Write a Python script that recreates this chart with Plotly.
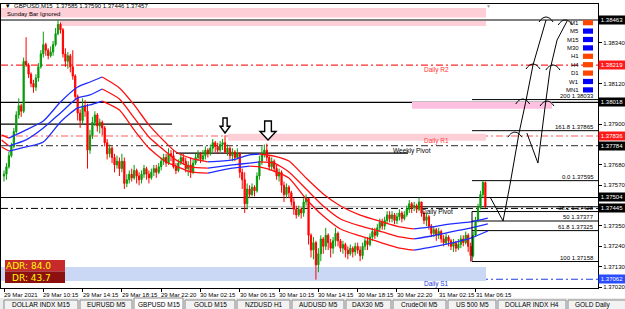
import plotly.graph_objects as go

# ======================= DATA =======================
symbol_title = "GBPUSD,M15  1.37585 1.37590 1.37446 1.37457"
first_open = 1.3762
closes = [
 1.3763, 1.3767, 1.3773, 1.3778, 1.3786, 1.3795, 1.3800, 1.3797, 1.3824, 1.3822,
 1.3817, 1.3812, 1.3810, 1.3815, 1.3821, 1.3828, 1.3833, 1.3830, 1.3827, 1.3829,
 1.3833, 1.3839, 1.3844, 1.3841, 1.3828, 1.3824, 1.3827, 1.3821, 1.3816, 1.3805,
 1.3796, 1.3792, 1.3800, 1.3797, 1.3776, 1.3784, 1.3791, 1.3795, 1.3789, 1.3791,
 1.3788, 1.3780, 1.3774, 1.3777, 1.3772, 1.3768, 1.3770, 1.3766, 1.3770, 1.3758,
 1.3760, 1.3763, 1.3761, 1.3765, 1.3762, 1.3760, 1.3763, 1.3766, 1.3763, 1.3761,
 1.3764, 1.3766, 1.3764, 1.3767, 1.3770, 1.3772, 1.3769, 1.3774, 1.3773, 1.3767,
 1.3765, 1.3769, 1.3772, 1.3770, 1.3766, 1.3768, 1.3764, 1.3769, 1.3772, 1.3774,
 1.3771, 1.3773, 1.3776, 1.3774, 1.3777, 1.3780, 1.3778, 1.3776, 1.3779, 1.3780,
 1.3775, 1.3777, 1.3773, 1.3775, 1.3772, 1.3774, 1.3764, 1.3760, 1.3747, 1.3755,
 1.3752, 1.3756, 1.3754, 1.3762, 1.3770, 1.3774, 1.3776, 1.3772, 1.3767, 1.3770,
 1.3766, 1.3762, 1.3764, 1.3757, 1.3752, 1.3756, 1.3753, 1.3748, 1.3744, 1.3741,
 1.3744, 1.3742, 1.3748, 1.3750, 1.3730, 1.3722, 1.3726, 1.3714, 1.3720, 1.3728,
 1.3724, 1.3730, 1.3726, 1.3723, 1.3727, 1.3731, 1.3727, 1.3723, 1.3725, 1.3722,
 1.3720, 1.3723, 1.3721, 1.3724, 1.3722, 1.3719, 1.3724, 1.3727, 1.3725, 1.3729,
 1.3732, 1.3730, 1.3734, 1.3737, 1.3735, 1.3738, 1.3741, 1.3739, 1.3741, 1.3738,
 1.3740, 1.3742, 1.3739, 1.3741, 1.3744, 1.3747, 1.3745, 1.3746, 1.3744, 1.3748,
 1.3742, 1.3738, 1.3740, 1.3735, 1.3731, 1.3733, 1.3730, 1.3732, 1.3728, 1.3726,
 1.3729, 1.3727, 1.3724, 1.3726, 1.3723, 1.3725, 1.3728, 1.3726, 1.3730, 1.3724,
 1.3719, 1.3730, 1.3738, 1.3745, 1.3752, 1.37585, 1.37457]
highs = [
 1.3765, 1.3769, 1.3775, 1.3780, 1.3788, 1.3797, 1.3804, 1.3801, 1.3826, 1.3837,
 1.3823, 1.3818, 1.3814, 1.3817, 1.3823, 1.3830, 1.3840, 1.3834, 1.3831, 1.3832,
 1.3835, 1.3842, 1.38463, 1.3845, 1.3842, 1.3831, 1.3829, 1.3828, 1.3830, 1.3817,
 1.3806, 1.3798, 1.3804, 1.3803, 1.3801, 1.3787, 1.3794, 1.3797, 1.3796, 1.3793,
 1.3792, 1.3789, 1.3782, 1.3779, 1.3778, 1.3774, 1.3773, 1.3772, 1.3774, 1.3772,
 1.3763, 1.3765, 1.3766, 1.3768, 1.3766, 1.3764, 1.3765, 1.3768, 1.3767, 1.3765,
 1.3766, 1.3768, 1.3768, 1.3769, 1.3772, 1.3774, 1.3774, 1.3777, 1.3776, 1.3776,
 1.3769, 1.3771, 1.3774, 1.3774, 1.3772, 1.3770, 1.3772, 1.3771, 1.3774, 1.3776,
 1.3775, 1.3776, 1.3778, 1.3777, 1.3779, 1.3782, 1.3781, 1.3780, 1.3781, 1.3782,
 1.3784, 1.3779, 1.3778, 1.3777, 1.3776, 1.3777, 1.3775, 1.3766, 1.3764, 1.3758,
 1.3757, 1.3758, 1.3757, 1.3764, 1.3773, 1.3778, 1.3779, 1.37795, 1.3773, 1.3772,
 1.3771, 1.3768, 1.3766, 1.3765, 1.3759, 1.3758, 1.3757, 1.3754, 1.3750, 1.3746,
 1.3746, 1.3745, 1.3750, 1.3752, 1.3750, 1.3731, 1.3729, 1.3727, 1.3723, 1.3730,
 1.3729, 1.3734, 1.3731, 1.3728, 1.3729, 1.3734, 1.3732, 1.3728, 1.3727, 1.3726,
 1.3724, 1.3725, 1.3724, 1.3726, 1.3726, 1.3724, 1.3726, 1.3729, 1.3729, 1.3731,
 1.3734, 1.3734, 1.3736, 1.3739, 1.3739, 1.3740, 1.3743, 1.3743, 1.3743, 1.3742,
 1.3742, 1.3744, 1.3743, 1.3743, 1.3746, 1.3749, 1.3748, 1.3748, 1.3747, 1.37504,
 1.3748, 1.3743, 1.3742, 1.3741, 1.3736, 1.3735, 1.3734, 1.3734, 1.3733, 1.3730,
 1.3731, 1.3730, 1.3728, 1.3728, 1.3727, 1.3728, 1.3730, 1.3730, 1.3732, 1.3731,
 1.3726, 1.3732, 1.3740, 1.3747, 1.3754, 1.37595, 1.37590]
lows = [
 1.3759, 1.3760, 1.3766, 1.3772, 1.3777, 1.3785, 1.3793, 1.3794, 1.3796, 1.3821,
 1.3815, 1.3810, 1.3807, 1.3808, 1.3813, 1.3820, 1.3826, 1.3827, 1.3825, 1.3826,
 1.3827, 1.3832, 1.3838, 1.3839, 1.3826, 1.3821, 1.3820, 1.3818, 1.3814, 1.3803,
 1.3792, 1.3788, 1.3790, 1.3794, 1.3766, 1.3774, 1.3782, 1.3789, 1.3786, 1.3785,
 1.3784, 1.3778, 1.3771, 1.3772, 1.3769, 1.3764, 1.3766, 1.3762, 1.3764, 1.3755,
 1.3756, 1.3758, 1.3759, 1.3760, 1.3758, 1.3757, 1.3758, 1.3761, 1.3760, 1.3758,
 1.3760, 1.3762, 1.3761, 1.3763, 1.3765, 1.3768, 1.3767, 1.3768, 1.3770, 1.3766,
 1.3763, 1.3764, 1.3768, 1.3768, 1.3764, 1.3762, 1.3761, 1.3763, 1.3768, 1.3770,
 1.3769, 1.3770, 1.3771, 1.3772, 1.3773, 1.3775, 1.3775, 1.3774, 1.3775, 1.3776,
 1.3774, 1.3773, 1.3771, 1.3770, 1.3770, 1.3771, 1.3761, 1.3755, 1.3742, 1.3744,
 1.3750, 1.3751, 1.3751, 1.3753, 1.3760, 1.3768, 1.3772, 1.3770, 1.3765, 1.3765,
 1.3764, 1.3760, 1.3759, 1.3753, 1.3748, 1.3750, 1.3750, 1.3746, 1.3741, 1.3739,
 1.3740, 1.3739, 1.3740, 1.3746, 1.3725, 1.3718, 1.3717, 1.3706, 1.3710, 1.3716,
 1.3720, 1.3722, 1.3722, 1.3718, 1.3720, 1.3724, 1.3724, 1.3721, 1.3720, 1.3718,
 1.3717, 1.3719, 1.3718, 1.3719, 1.3720, 1.3716, 1.3717, 1.3722, 1.3722, 1.3724,
 1.3727, 1.3728, 1.3729, 1.3732, 1.3733, 1.3733, 1.3736, 1.3737, 1.3737, 1.3736,
 1.3736, 1.3738, 1.3737, 1.3738, 1.3740, 1.3742, 1.3742, 1.3743, 1.3742, 1.3743,
 1.3740, 1.3736, 1.3735, 1.3733, 1.3729, 1.3729, 1.3727, 1.3728, 1.3726, 1.3724,
 1.3725, 1.3724, 1.3722, 1.3721, 1.3721, 1.3722, 1.3723, 1.3724, 1.3725, 1.3721,
 1.37158, 1.3718, 1.3729, 1.3737, 1.3744, 1.3750, 1.37446]

time_tick_bars = [0, 16, 32, 48, 64, 80, 96, 112, 128, 144, 160, 177, 192]
time_tick_labels = ["29 Mar 2021", "29 Mar 10:15", "29 Mar 14:15", "29 Mar 18:15",
                    "29 Mar 22:20", "30 Mar 02:15", "30 Mar 06:15", "30 Mar 10:15",
                    "30 Mar 14:15", "30 Mar 18:15", "30 Mar 22:20", "31 Mar 02:15",
                    "31 Mar 06:15"]
price_ticks = [1.38340, 1.38120, 1.37900, 1.37680, 1.37570, 1.37350, 1.37240, 1.37130, 1.37020]

# envelope (3 lines), sampled along the chart
ma_bars = [-1, 2, 9, 16, 23, 30, 35, 40, 47, 53, 59, 66, 70, 76, 83, 93, 100, 104, 110,
           116, 123, 130, 137, 145, 154, 161, 167, 174, 182, 190, 197]
ma_upper = [1.37842, 1.37825, 1.37869, 1.37917, 1.38020, 1.38101, 1.38128, 1.38155, 1.38096,
            1.38004, 1.37896, 1.37798, 1.37750, 1.37717, 1.37696, 1.37707, 1.37734, 1.37739,
            1.37728, 1.37701, 1.37609, 1.37523, 1.37458, 1.37409, 1.37372, 1.37345, 1.37334,
            1.37345, 1.37361, 1.37372, 1.37393]
ma_mid = [1.37815, 1.37782, 1.37815, 1.37879, 1.37961, 1.38042, 1.38058, 1.38090, 1.38036,
          1.37934, 1.37831, 1.37750, 1.37707, 1.37669, 1.37663, 1.37680, 1.37690, 1.37696,
          1.37690, 1.37642, 1.37550, 1.37458, 1.37388, 1.37350, 1.37318, 1.37291, 1.37280,
          1.37296, 1.37318, 1.37339, 1.37361]
ma_lower = [1.37777, 1.37755, 1.37777, 1.37804, 1.37912, 1.37988, 1.38004, 1.38025, 1.37977,
            1.37869, 1.37771, 1.37696, 1.37674, 1.37642, 1.37636, 1.37663, 1.37674, 1.37669,
            1.37647, 1.37609, 1.37496, 1.37404, 1.37334, 1.37296, 1.37258, 1.37231, 1.37220,
            1.37236, 1.37258, 1.37285, 1.37323]

# Fibonacci
fib_names = ["0.0", "38.2", "50", "61.8", "100", "161.8", "200"]
fib_prices = [1.37595, 1.37428, 1.37377, 1.37325, 1.37158, 1.37865, 1.38033]

# pivots
pivot_names = ["Daily R2", "Daily R1", "Weekly Pivot", "Daily Pivot", "Daily S1"]
pivot_prices = [1.38219, 1.37836, 1.37784, 1.37454, 1.37062]

# horizontal support/resistance lines
full_levels = [1.38463, 1.38018, 1.37504]
bid_level = 1.37445
short_levels = [1.37900, 1.37744]
short_level_from = [-2, 70]
short_level_to = [68.4, 164.5]

# zones (price bottom, price top)
zone_sunday = [(1.38477, 1.38528), (1.38431, 1.38458)]
zone_r1 = (1.37811, 1.37849)
zone_upper = (1.37983, 1.38020)
zone_s1 = (1.37053, 1.37129)

# right-scale highlighted prices
box_labels = ["1.38463", "1.38219", "1.38018", "1.37836", "1.37784", "1.37504", "1.37445", "1.37062"]
box_kinds = ["k", "r", "k", "r", "k", "k", "k", "b"]

adr_value = "84.0"
dr_value = "43.7"
tf_names = ["M1", "M5", "M15", "M30", "H1", "H4", "D1", "W1", "MN1"]
tf_state = ["dn", "up", "up", "up", "dn", "dn", "dn", "up", "up"]
tabs = ["DOLLAR INDX M15", "EURUSD M5", "GBPUSD M15", "GOLD M15", "NZDUSD H1",
        "AUDUSD M5", "DAX30 M5", "CrudeOil M5", "US 500 M5", "DOLLAR INDX H4", "GOLD Daily"]
active_tab = "GBPUSD M15"

# hand-drawn projection paths (bar index, price)
proj1_bars = [197.9, 203.2, 206.0, 209.7, 212.5, 215.4, 220.7]
proj1_prices = [1.37507, 1.37377, 1.37572, 1.37852, 1.38025, 1.38220, 1.38463]
proj2_bars = [212.9, 217.4, 220.3, 222.3, 225.2, 229.3]
proj2_prices = [1.37852, 1.37690, 1.37993, 1.38193, 1.38355, 1.38458]
proj_tips_bars = [208.0, 211.2, 215.4, 220.7, 221.1, 223.5, 228.5]
proj_tips_prices = [1.37857, 1.38036, 1.38225, 1.38479, 1.38025, 1.38220, 1.38463]
marker_arrow_bars = [90, 107.5]

# ======================= LAYOUT HELPERS =======================
W, H = 625, 309
PX0, PX1, PY0, PY1 = 1, 598, 4, 288
BAR0_PX, BAR_PX = 4.0, 2.456
REF_P, REF_PY, PX_PER_P = 1.38463, 20.0, 18508.0
FONT = "Liberation Sans"
BULL, BEAR = "#0a9a0a", "#ff0000"
MA_UP, MA_DN = "#1e2cff", "#ff1010"


def bx(px):
    return (px - BAR0_PX) / BAR_PX


def py2p(py):
    return REF_P - (py - REF_PY) / PX_PER_P


def xp(px):
    return (px - PX0) / (PX1 - PX0)


def yp(py):
    return (PY1 - py) / (PY1 - PY0)


fig = go.Figure()
shapes, ann = [], []


def zone(x0px, x1px, lo, hi, color):
    shapes.append(dict(type="rect", xref="x", yref="y", x0=bx(x0px), x1=bx(x1px), y0=lo, y1=hi,
                       fillcolor=color, line=dict(width=0), layer="below"))


zone(0, 486, zone_sunday[0][0], zone_sunday[0][1], "#ffcfd8")
zone(60, 486, zone_sunday[1][0], zone_sunday[1][1], "#ffcfd8")
zone(228, 486, zone_r1[0], zone_r1[1], "#ffcfd8")
zone(412, 552, zone_upper[0], zone_upper[1], "#ffbfe0")
zone(0, 486, zone_s1[0], zone_s1[1], "#cad8f6")

DASHDOT = "7px,3px,2px,3px"


def hline(price, color, dash="solid", width=1, x0=None, x1=None):
    if x0 is None:
        shapes.append(dict(type="line", xref="paper", yref="y", x0=0, x1=1, y0=price, y1=price,
                           line=dict(color=color, width=width, dash=dash), layer="below"))
    else:
        shapes.append(dict(type="line", xref="x", yref="y", x0=x0, x1=x1, y0=price, y1=price,
                           line=dict(color=color, width=width, dash=dash), layer="below"))


for lv in full_levels:
    hline(lv, "#000000", width=1.2)
for lv, a, b in zip(short_levels, short_level_from, short_level_to):
    hline(lv, "#000000", width=1.2, x0=a, x1=b)
hline(bid_level, "#000000", dash=DASHDOT)
pivot_colors = ["#ff2a2a", "#ff5a5a", "#555555", "#000000", "#2040e0"]
for name, pv, col in zip(pivot_names, pivot_prices, pivot_colors):
    if name == "Daily Pivot":
        hline(pv, "#b0b0b0", x0=bx(176), x1=bx(408))
        hline(pv, "#000000", x0=bx(408), x1=bx(600))
    else:
        hline(pv, col, dash=DASHDOT, width=1.1)

# fib lines
fib_x0 = bx(472)
for nm, fp in zip(fib_names, fib_prices):
    hline(fp, "#000000", x0=fib_x0, x1=bx(600))
    ann.append(dict(xref="paper", yref="y", x=xp(596), y=fp, yshift=4, text=f"{nm} {fp:.5f}",
                    showarrow=False, xanchor="right", yanchor="middle",
                    font=dict(size=6, color="#000000", family=FONT)))
shapes.append(dict(type="line", xref="x", yref="y", x0=fib_x0, x1=fib_x0,
                   y0=fib_prices[4], y1=fib_prices[1], line=dict(color="#000000", width=1)))

# candles
opens = [first_open] + closes[:-1]
bars = list(range(len(closes)))
hi = [max(h, o, c) for h, o, c in zip(highs, opens, closes)]
lo = [min(l, o, c) for l, o, c in zip(lows, opens, closes)]
fig.add_trace(go.Candlestick(
    x=bars, open=opens, high=hi, low=lo, close=closes, whiskerwidth=0,
    increasing=dict(line=dict(color=BULL, width=1), fillcolor=BULL),
    decreasing=dict(line=dict(color=BEAR, width=1), fillcolor=BEAR),
    hoverinfo="skip", showlegend=False))


def add_ma(vals):
    segs, cur_c, cur = [], None, []
    for k in range(len(ma_bars) - 1):
        c = MA_UP if vals[k + 1] >= vals[k] else MA_DN
        if c != cur_c:
            if cur:
                segs.append((cur_c, cur))
            cur_c, cur = c, [k]
        cur.append(k + 1)
    segs.append((cur_c, cur))
    for c, idx in segs:
        fig.add_trace(go.Scatter(x=[ma_bars[j] for j in idx], y=[vals[j] for j in idx],
                                 mode="lines", line=dict(color=c, width=1.3, shape="spline", smoothing=0.6),
                                 hoverinfo="skip", showlegend=False))


for arr in (ma_upper, ma_mid, ma_lower):
    add_ma(arr)

# hand-drawn projections
for bxs, pps in ((proj1_bars, proj1_prices), (proj2_bars, proj2_prices)):
    fig.add_trace(go.Scatter(x=bxs, y=pps, mode="lines", line=dict(color="#000000", width=1),
                             hoverinfo="skip", showlegend=False))
arc_dx = [-7, -4, 0, 4, 7]
arc_dy = [5, 1.5, 0, 1.5, 5]
for tb, tp in zip(proj_tips_bars, proj_tips_prices):
    fig.add_trace(go.Scatter(x=[tb + d / BAR_PX for d in arc_dx],
                             y=[tp - d / PX_PER_P for d in arc_dy], mode="lines",
                             line=dict(color="#000000", width=1, shape="spline"),
                             hoverinfo="skip", showlegend=False))

# hollow marker arrows (above the two highs)
arrow_sizes = [(10, 15, 133), (16, 19, 140)]  # width, height, tip py
for b, (w, h, tip) in zip(marker_arrow_bars, arrow_sizes):
    cx = BAR0_PX + b * BAR_PX
    top = tip - h
    sw, hh = w * 0.42, h * 0.45
    pts = [(cx - sw / 2, top), (cx + sw / 2, top), (cx + sw / 2, tip - hh), (cx + w / 2, tip - hh),
           (cx, tip), (cx - w / 2, tip - hh), (cx - sw / 2, tip - hh)]
    path = "M " + " L ".join(f"{xp(a):.5f},{yp(c):.5f}" for a, c in pts) + " Z"
    shapes.append(dict(type="path", xref="paper", yref="paper", path=path,
                       fillcolor="#ffffff", line=dict(color="#000000", width=1.4)))

# pivot labels
piv_lab_pos = {"Daily R2": (436, "#ff3030"), "Daily R1": (436, "#ff4040"),
               "Weekly Pivot": (412, "#000000"), "Daily Pivot": (437, "#000000"),
               "Daily S1": (436, "#2040e0")}
for name, pv in zip(pivot_names, pivot_prices):
    cxp, col = piv_lab_pos[name]
    ann.append(dict(xref="paper", yref="y", x=xp(cxp), y=pv, yshift=-5, text=name, showarrow=False,
                    xanchor="center", yanchor="middle", font=dict(size=6.5, color=col, family=FONT)))

# price boxes on right scale
box_col = {"k": "#000000", "r": "#ff1a1a", "b": "#2a4cff"}
for lab, k in zip(box_labels, box_kinds):
    ann.append(dict(xref="paper", yref="y", x=1, y=float(lab), xanchor="left", yanchor="middle",
                    text=lab, showarrow=False, bgcolor=box_col[k], width=26, height=8,
                    borderpad=0, font=dict(size=6, color="#ffffff", family=FONT)))


def text_px(px, py, s, size=6, color="#000000", anchor="left", family=FONT):
    ann.append(dict(xref="paper", yref="paper", x=xp(px), y=yp(py), text=s, showarrow=False,
                    xanchor=anchor, yanchor="middle",
                    font=dict(size=size, color=color, family=family)))


text_px(4, 6, "▾", size=7)
text_px(12, 6, symbol_title, size=6)
text_px(5, 14, "Sunday Bar Ignored", size=6)
text_px(489, 6, "▼", size=5, color="#999999", anchor="center")

# time-axis labels (left-aligned at their tick, MT4 style)
for tb, tl in zip(time_tick_bars, time_tick_labels):
    ann.append(dict(xref="x", yref="paper", x=tb, y=yp(294.5), xshift=-2, text=tl, showarrow=False,
                    xanchor="left", yanchor="middle", font=dict(size=6, color="#000000", family=FONT)))

# timeframe panel
tf_col = {"up": "#0000ff", "dn": "#ff4500"}
for k, (nm, st) in enumerate(zip(tf_names, tf_state)):
    cy = 22.7 + k * 8.4
    text_px(581, cy, nm, size=6, anchor="right")
    shapes.append(dict(type="rect", xref="paper", yref="paper", x0=xp(583), x1=xp(593),
                       y0=yp(cy + 2.6), y1=yp(cy - 2.6), fillcolor=tf_col[st], line=dict(width=0)))

# ADR box
shapes.append(dict(type="rect", xref="paper", yref="paper", x0=xp(5), x1=xp(65), y0=yp(271.5),
                   y1=yp(260), fillcolor="#c62a2a", line=dict(width=0)))
shapes.append(dict(type="rect", xref="paper", yref="paper", x0=xp(5), x1=xp(65), y0=yp(283),
                   y1=yp(271.5), fillcolor="#8c1010", line=dict(width=0)))
text_px(53, 266, f"ADR: {adr_value}", size=9, color="#ffff00", anchor="right", family="DejaVu Sans")
text_px(53, 277.5, f"DR: {dr_value}", size=9, color="#ffff00", anchor="right", family="DejaVu Sans")

# bottom tabs
shapes.append(dict(type="rect", xref="paper", yref="paper", x0=xp(0), x1=xp(625), y0=yp(309),
                   y1=yp(298), fillcolor="#ececec", line=dict(width=0)))
tab_edges = [3, 79, 133, 184, 236, 291, 345, 392, 447, 497, 567, 640]
for k, name in enumerate(tabs):
    a, b = tab_edges[k], tab_edges[k + 1]
    act = name == active_tab
    shapes.append(dict(type="rect", xref="paper", yref="paper", x0=xp(a + 1), x1=xp(b - 1),
                       y0=yp(312), y1=yp(298 if act else 300),
                       fillcolor="#ffffff" if act else "#f2f2f2",
                       line=dict(color="#8a8a8a", width=1)))
    last = k == len(tabs) - 1
    text_px(a + 6 if last else (a + b) / 2, 304.5, name, size=6.5,
            anchor="left" if last else "center")

fig.update_layout(
    width=W, height=H, margin=dict(l=PX0, r=W - PX1, t=PY0, b=H - PY1, pad=0, autoexpand=False),
    paper_bgcolor="#ffffff", plot_bgcolor="#ffffff", showlegend=False,
    shapes=shapes, annotations=ann,
    xaxis=dict(range=[bx(PX0), bx(PX1)], showgrid=False, zeroline=False, automargin=False,
               tickmode="array", tickvals=time_tick_bars, showticklabels=False,
               ticks="outside", ticklen=3, tickcolor="#000000",
               showline=True, linecolor="#000000", linewidth=1, mirror=True,
               rangeslider=dict(visible=False), fixedrange=True),
    yaxis=dict(range=[py2p(PY1), py2p(PY0)], side="right", showgrid=False, zeroline=False,
               automargin=False,
               tickmode="array", tickvals=price_ticks, ticktext=[f"{v:.5f}" for v in price_ticks],
               ticks="outside", ticklen=3, tickcolor="#000000",
               tickfont=dict(size=6, color="#000000", family=FONT),
               showline=True, linecolor="#000000", linewidth=1, mirror=True, fixedrange=True),
)

fig.write_html("out.html", config={"displayModeBar": False})
